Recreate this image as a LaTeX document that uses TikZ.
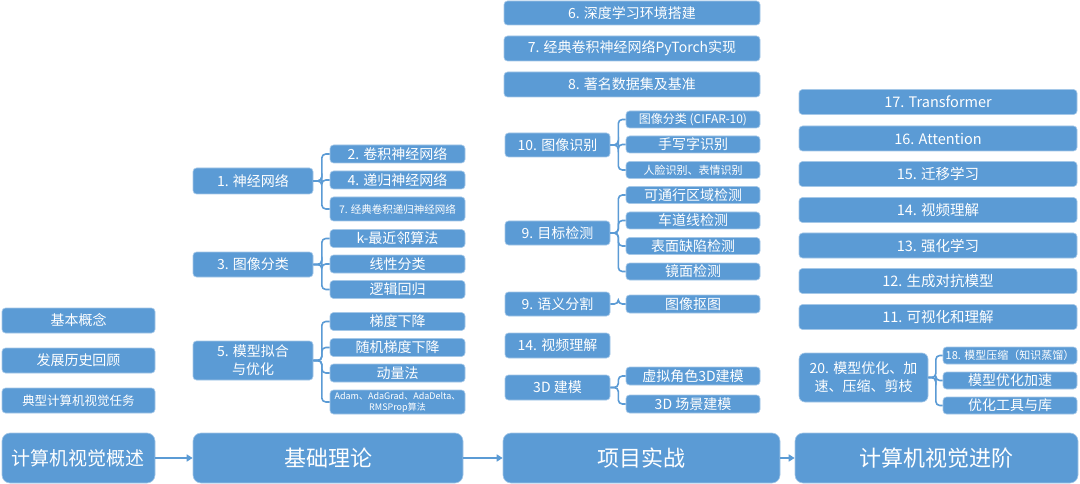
\documentclass[tikz,border=0pt]{standalone}
\usepackage{fontspec}
\setmainfont{Noto Sans CJK SC}
\usetikzlibrary{arrows.meta}
\definecolor{boxblue}{HTML}{5B9BD5}
\newcommand\fs[1]{\fontsize{#1}{#1}\selectfont}
\tikzset{
  bx/.style={fill=boxblue, draw=boxblue!55!white, line width=0.6pt, rounded corners=3.5pt,
    text=white, inner sep=0pt, align=center},
  mainbx/.style={bx, rounded corners=8pt},
  conn/.style={draw=boxblue, line width=1.6pt, rounded corners=4pt},
  arr/.style={draw=boxblue, line width=2pt, -{Triangle[length=6pt,width=7pt]}},
}
\newcommand\brk[3]{\draw[conn] (#1.east) -- ++(#3,0) |- (#2.west);}
\begin{document}
\begin{tikzpicture}[x=1pt,y=-1pt]
\fill[white] (0,0) rectangle (1080,484);
\useasboundingbox (0,0) rectangle (1080,484);

% bottom main boxes
\node[mainbx, minimum width=153pt, minimum height=50pt, font=\fs{19}] (ov) at (78.5,458) {计算机视觉概述};
\node[mainbx, minimum width=270pt, minimum height=50pt, font=\fs{22}] (jc) at (328,458) {基础理论};
\node[mainbx, minimum width=277pt, minimum height=50pt, font=\fs{22}] (xm) at (641.5,458) {项目实战};
\node[mainbx, minimum width=283pt, minimum height=50pt, font=\fs{22}] (jj) at (936.5,458) {计算机视觉进阶};
\draw[arr] (ov.east) -- (jc.west);
\draw[arr] (jc.east) -- (xm.west);
\draw[arr] (xm.east) -- (jj.west);

% left column
\node[bx, minimum width=153pt, minimum height=25pt, font=\fs{14}] (l1) at (78.5,320.5) {基本概念};
\node[bx, minimum width=153pt, minimum height=25pt, font=\fs{14}] (l2) at (78.5,360.5) {发展历史回顾};
\node[bx, minimum width=153pt, minimum height=25pt, font=\fs{12.5}] (l3) at (78.5,400.5) {典型计算机视觉任务};

% column 2
\node[bx, minimum width=120pt, minimum height=26pt, font=\fs{14}] (nn) at (253,181) {1. 神经网络};
\node[bx, minimum width=120pt, minimum height=25pt, font=\fs{14}] (ic) at (253,264.5) {3. 图像分类};
\node[bx, minimum width=120pt, minimum height=39pt, font=\fontsize{14}{18}\selectfont] (mf) at (253,360.5) {5. 模型拟合\\与优化};

\node[bx, minimum width=135pt, minimum height=18pt, font=\fs{14}] (c2) at (397.5,154) {2. 卷积神经网络};
\node[bx, minimum width=135pt, minimum height=18pt, font=\fs{14}] (c4) at (397.5,180) {4. 递归神经网络};
\node[bx, minimum width=135pt, minimum height=24pt, font=\fs{10.5}] (c7) at (397.5,209) {7. 经典卷积递归神经网络};
\node[bx, minimum width=135pt, minimum height=18pt, font=\fs{14}] (knn) at (397.5,238.5) {k-最近邻算法};
\node[bx, minimum width=135pt, minimum height=18pt, font=\fs{14}] (lin) at (397.5,264) {线性分类};
\node[bx, minimum width=135pt, minimum height=18pt, font=\fs{14}] (lgr) at (397.5,289.5) {逻辑回归};
\node[bx, minimum width=135pt, minimum height=18pt, font=\fs{14}] (gd) at (397.5,321.5) {梯度下降};
\node[bx, minimum width=135pt, minimum height=18pt, font=\fs{14}] (sgd) at (397.5,347.5) {随机梯度下降};
\node[bx, minimum width=135pt, minimum height=18pt, font=\fs{14}] (mom) at (397.5,373) {动量法};
\node[bx, minimum width=135pt, minimum height=24pt, font=\fontsize{9}{11}\selectfont] (adam) at (397.5,402) {Adam、AdaGrad、AdaDelta、\\RMSProp算法};

\brk{nn}{c2}{8.5}\brk{nn}{c4}{8.5}\brk{nn}{c7}{8.5}
\brk{ic}{knn}{8.5}\brk{ic}{lin}{8.5}\brk{ic}{lgr}{8.5}
\brk{mf}{gd}{8.5}\brk{mf}{sgd}{8.5}\brk{mf}{mom}{8.5}\brk{mf}{adam}{8.5}

% column 3
\node[bx, minimum width=256pt, minimum height=24pt, font=\fs{14}] (p6) at (632,13) {6. 深度学习环境搭建};
\node[bx, minimum width=256pt, minimum height=25pt, font=\fs{14}] (p7) at (632,48.5) {7. 经典卷积神经网络PyTorch实现};
\node[bx, minimum width=256pt, minimum height=25pt, font=\fs{14}] (p8) at (632,84.5) {8. 著名数据集及基准};

\node[bx, minimum width=105pt, minimum height=24pt, font=\fs{14}] (ir) at (557.5,145) {10. 图像识别};
\node[bx, minimum width=105pt, minimum height=24pt, font=\fs{14}] (od) at (557.5,233) {9. 目标检测};
\node[bx, minimum width=105pt, minimum height=24pt, font=\fs{14}] (ss) at (557.5,304) {9. 语义分割};
\node[bx, minimum width=105pt, minimum height=25pt, font=\fs{14}] (vu) at (557.5,345.5) {14. 视频理解};
\node[bx, minimum width=105pt, minimum height=25pt, font=\fs{14}] (m3) at (557.5,387.5) {3D 建模};

\node[bx, minimum width=134pt, minimum height=17pt, font=\fs{12}] (cifar) at (693,119.5) {图像分类 (CIFAR-10)};
\node[bx, minimum width=134pt, minimum height=17pt, font=\fs{14}] (hw) at (693,144.5) {手写字识别};
\node[bx, minimum width=134pt, minimum height=17pt, font=\fs{11}] (face) at (693,170) {人脸识别、表情识别};
\node[bx, minimum width=134pt, minimum height=17pt, font=\fs{14}] (drv) at (693,195) {可通行区域检测};
\node[bx, minimum width=134pt, minimum height=17pt, font=\fs{14}] (lane) at (693,220.5) {车道线检测};
\node[bx, minimum width=134pt, minimum height=17pt, font=\fs{14}] (surf) at (693,246) {表面缺陷检测};
\node[bx, minimum width=134pt, minimum height=17pt, font=\fs{14}] (mirr) at (693,271.5) {镜面检测};
\node[bx, minimum width=134pt, minimum height=18pt, font=\fs{14}] (mat) at (693,304) {图像抠图};
\node[bx, minimum width=134pt, minimum height=18pt, font=\fs{14}] (vr) at (693,376) {虚拟角色3D建模};
\node[bx, minimum width=134pt, minimum height=18pt, font=\fs{14}] (scene) at (693,404) {3D 场景建模};

\brk{ir}{cifar}{8}\brk{ir}{hw}{8}\brk{ir}{face}{8}
\brk{od}{drv}{8}\brk{od}{lane}{8}\brk{od}{surf}{8}\brk{od}{mirr}{8}
\brk{ss}{mat}{8}
\brk{m3}{vr}{8}\brk{m3}{scene}{8}

% column 4
\node[bx, minimum width=278pt, minimum height=25pt, font=\fs{14.5}] (t17) at (938,102) {17. Transformer};
\node[bx, minimum width=278pt, minimum height=25pt, font=\fs{14.5}] (t16) at (938,138.5) {16. Attention};
\node[bx, minimum width=278pt, minimum height=25pt, font=\fs{14.5}] (t15) at (938,174) {15. 迁移学习};
\node[bx, minimum width=278pt, minimum height=25pt, font=\fs{14.5}] (t14) at (938,210) {14. 视频理解};
\node[bx, minimum width=278pt, minimum height=25pt, font=\fs{14.5}] (t13) at (938,245.5) {13. 强化学习};
\node[bx, minimum width=278pt, minimum height=25pt, font=\fs{14.5}] (t12) at (938,281) {12. 生成对抗模型};
\node[bx, minimum width=278pt, minimum height=25pt, font=\fs{14.5}] (t11) at (938,317) {11. 可视化和理解};

\node[bx, rounded corners=6pt, minimum width=129pt, minimum height=49pt, font=\fontsize{14}{18}\selectfont] (a20) at (863.5,377.5) {20. 模型优化、加\\速、压缩、剪枝};
\node[bx, minimum width=134pt, minimum height=17pt, font=\fs{11}] (kd) at (1010,355.5) {18. 模型压缩（知识蒸馏）};
\node[bx, minimum width=134pt, minimum height=17pt, font=\fs{14}] (acc) at (1010,380.5) {模型优化加速};
\node[bx, minimum width=134pt, minimum height=17pt, font=\fs{14}] (tools) at (1010,405.5) {优化工具与库};
\brk{a20}{kd}{7.5}\brk{a20}{acc}{7.5}\brk{a20}{tools}{7.5}
\end{tikzpicture}
\end{document}
